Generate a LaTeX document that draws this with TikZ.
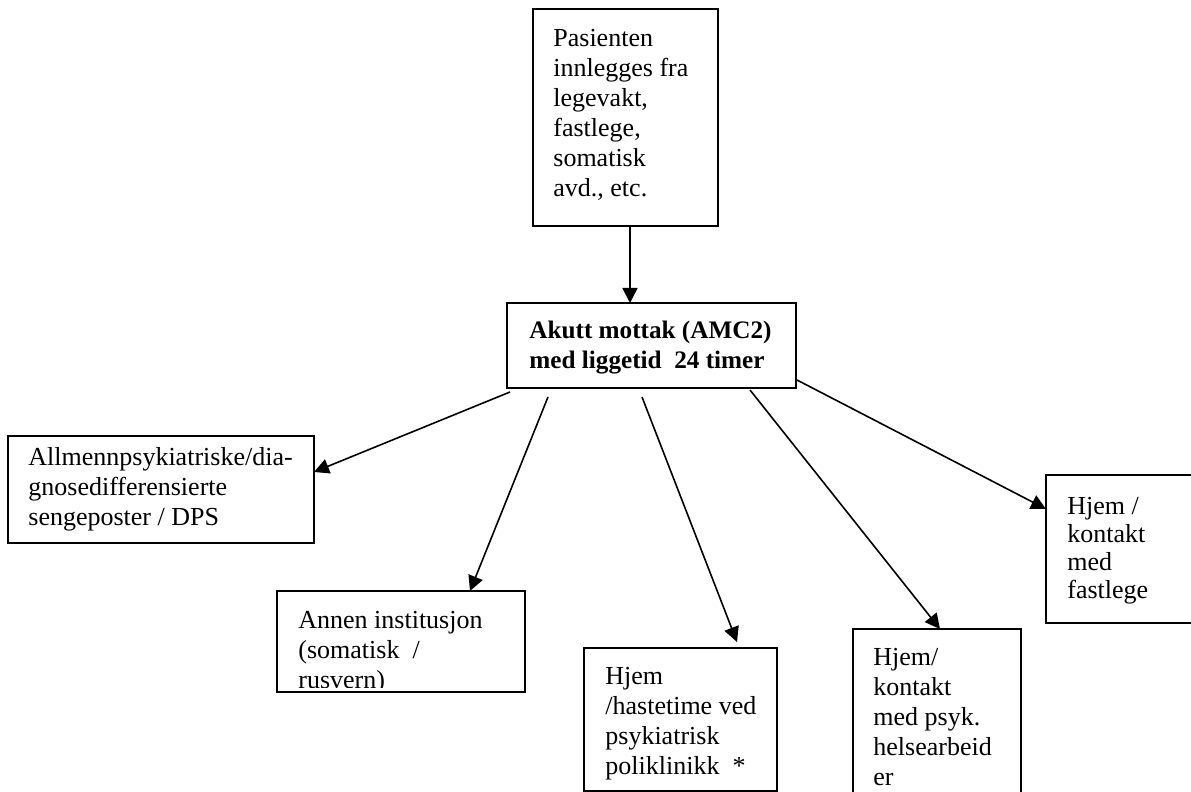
\documentclass[tikz,border=0pt]{standalone}
\usepackage{fontspec}
\setmainfont{Liberation Serif}
\usetikzlibrary{arrows.meta,calc}
\begin{document}
\begin{tikzpicture}[x=0.5pt,y=-0.5pt,
  box/.style={draw=black,line width=1pt,fill=white,rectangle,anchor=north west,inner sep=0pt,outer sep=0pt},
  txt/.style={anchor=north west,inner sep=0pt,align=left,font=\fontsize{13}{15}\selectfont},
  arr/.style={line width=0.8pt,-{Triangle[length=7.5pt,width=7.5pt]}}]
\useasboundingbox (0,0) rectangle (1191,792);
\clip (0,0) rectangle (1191,792);
% boxes
\node[box,minimum width=92.5pt,minimum height=108.5pt] (top) at (533,9) {};
\node[box,minimum width=144.5pt,minimum height=42.5pt] (amc) at (507,303) {};
\node[box,minimum width=153pt,minimum height=53.5pt] (allm) at (8,436) {};
\node[box,minimum width=124pt,minimum height=50.5pt] (annen) at (277,591) {};
\node[box,minimum width=96.5pt,minimum height=71.5pt] (haste) at (584,648) {};
\node[box,minimum width=84pt,minimum height=90.5pt] (psyk) at (853,629) {};
\node[box,minimum width=82pt,minimum height=74pt] (fast) at (1046,475) {};
% texts
\node[txt] (ttop) at (553,29) {Pasienten\\innlegges fra\\legevakt,\\fastlege,\\somatisk\\avd., etc.};
\node[txt,font=\fontsize{12.6}{15}\selectfont\bfseries] (tamc) at (529,321) {Akutt mottak (AMC2)\\med liggetid\ \ 24 timer};
\node[txt] (tallm) at (28,447) {Allmennpsykiatriske/dia-\\gnosedifferensierte\\sengeposter / DPS};
\begin{scope}
\clip (277,591) rectangle (525,687);
\node[txt] (tannen) at (298,611) {Annen institusjon\\(somatisk\ \ /\\rusvern)};
\end{scope}
\node[txt] (thaste) at (605,667) {Hjem\\/hastetime ved\\psykiatrisk\\poliklinikk\ \ *};
\node[txt] (tpsyk) at (873,648) {Hjem/\\kontakt\\med psyk.\\helsearbeid\\er};
\node[txt,font=\fontsize{13}{14}\selectfont] (tfast) at (1067,497) {Hjem /\\kontakt\\med\\fastlege};
% connectors
\coordinate (s1) at ($(amc.south west)+(3,4)$);
\coordinate (s2) at ($(amc.south west)+(41,9)$);
\coordinate (s3) at ($(amc.south west)+(135,9)$);
\coordinate (s4) at ($(amc.south west)+(243,2)$);
\coordinate (s5) at ($(amc.south east)+(1,-8)$);
\draw[arr] (top.south -| 630,0) -- (amc.north -| 630,0);
\draw[arr] (s1) -- ($(allm.north east)+(0,36)$);
\draw[arr] (s2) -- ($(annen.north west)+(193,0)$);
\draw[arr] (s3) -- ($(haste.north west)+(153,-6)$);
\draw[arr] (s4) -- ($(psyk.north west)+(87,0)$);
\draw[arr] (s5) -- ($(fast.north west)+(0,34)$);
\end{tikzpicture}
\end{document}
